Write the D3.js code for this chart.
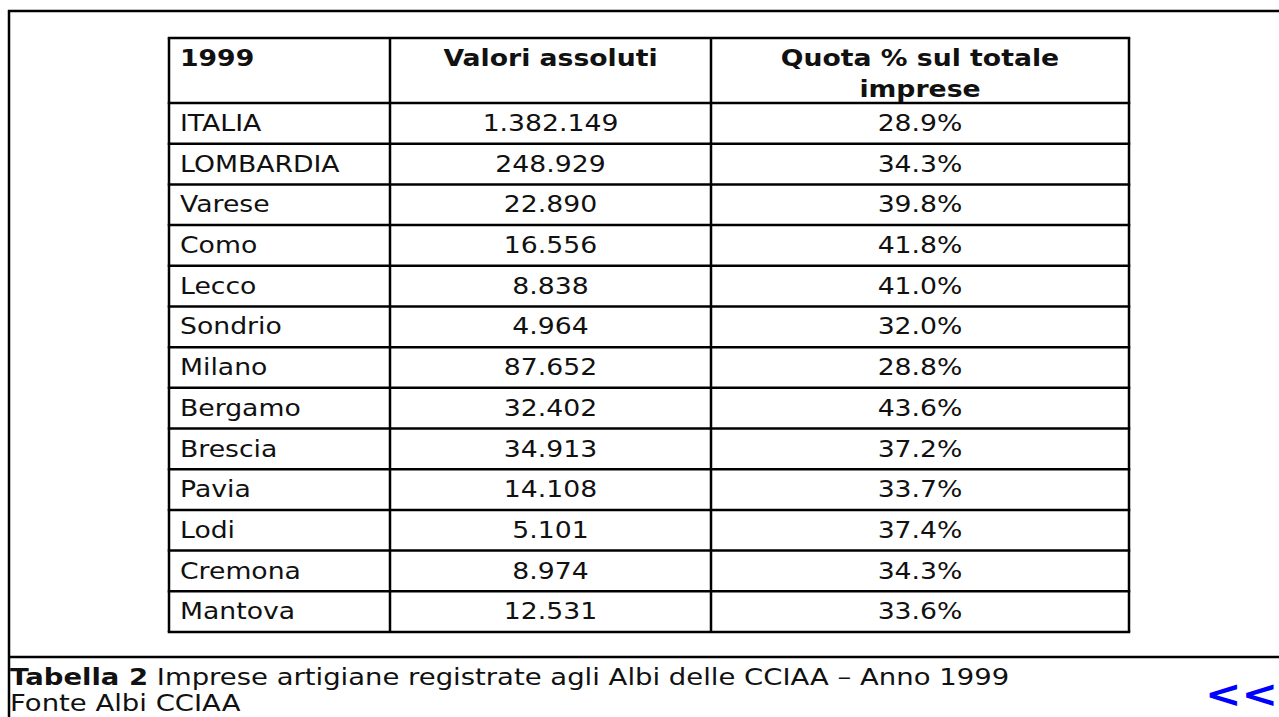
<!DOCTYPE html>
<html>
<head>
<meta charset="utf-8">
<script src="https://cdn.jsdelivr.net/npm/d3@7"></script>
<style>
  body { margin: 0; background: #fff; }
  svg { display: block; }
  text { font-family: "DejaVu Sans", Verdana, sans-serif; fill: #111; }
</style>
</head>
<body>
<svg></svg>
<script>
// table content
const regions = ['ITALIA', 'LOMBARDIA', 'Varese', 'Como', 'Lecco', 'Sondrio', 'Milano',
                 'Bergamo', 'Brescia', 'Pavia', 'Lodi', 'Cremona', 'Mantova'];
const valori = [1382149, 248929, 22890, 16556, 8838, 4964, 87652, 32402, 34913, 14108, 5101, 8974, 12531];
const quota = [28.9, 34.3, 39.8, 41.8, 41.0, 32.0, 28.8, 43.6, 37.2, 33.7, 37.4, 34.3, 33.6];
const headers = ['1999', 'Valori assoluti', ['Quota % sul totale', 'imprese']];
const caption = ['Tabella 2', ' Imprese artigiane registrate agli Albi delle CCIAA \u2013 Anno 1999'];
const source = 'Fonte Albi CCIAA';

const width = 1279;
const height = 717;
const fs = 23;
const stretch = 1.16;

const it = d3.formatLocale({decimal: ',', thousands: '.', grouping: [3]});
const fmtVal = it.format(',d');
const fmtPct = d => d3.format('.1f')(d) + '%';

const svg = d3.select('svg')
    .attr('width', width)
    .attr('height', height);

// edges of the three columns
const colEdges = [169, 390, 711, 1129];
const tableTop = 38;
const headBottom = 103;
const tableBottom = 632;

const y = d3.scaleBand()
    .domain(regions)
    .range([headBottom, tableBottom]);

// outer frame
svg.append('line').attr('x1', 9).attr('x2', 9).attr('y1', 10).attr('y2', height)
    .attr('stroke', '#000').attr('stroke-width', 2.5);
svg.append('line').attr('x1', 8).attr('x2', width).attr('y1', 11).attr('y2', 11)
    .attr('stroke', '#000').attr('stroke-width', 2.5);
svg.append('line').attr('x1', 8).attr('x2', width).attr('y1', 657).attr('y2', 657)
    .attr('stroke', '#000').attr('stroke-width', 2.5);

// text helper, horizontally stretched like the original rendering
function label(g, x, yy, txt, anchor, bold, sx) {
    return g.append('text')
        .attr('transform', 'translate(' + x + ',' + yy + ') scale(' + (sx || stretch) + ',1)')
        .attr('text-anchor', anchor)
        .attr('font-size', fs)
        .attr('font-weight', bold ? 'bold' : 'normal')
        .text(txt);
}

const table = svg.append('g');

// grid lines
const hLines = [tableTop, headBottom].concat(regions.map(d => y(d) + y.bandwidth()));
table.selectAll('line.h')
    .data(hLines)
    .enter()
    .append('line')
        .attr('x1', colEdges[0] - 1.25)
        .attr('x2', colEdges[3] + 1.25)
        .attr('y1', d => d)
        .attr('y2', d => d)
        .attr('stroke', '#000')
        .attr('stroke-width', 2.5);

table.selectAll('line.v')
    .data(colEdges)
    .enter()
    .append('line')
        .attr('x1', d => d)
        .attr('x2', d => d)
        .attr('y1', tableTop)
        .attr('y2', tableBottom)
        .attr('stroke', '#000')
        .attr('stroke-width', 2.5);

const c2 = (colEdges[1] + colEdges[2]) / 2;
const c3 = (colEdges[2] + colEdges[3]) / 2;

// header
label(table, colEdges[0] + 11, 66, headers[0], 'start', true);
label(table, c2, 66, headers[1], 'middle', true);
label(table, c3, 66, headers[2][0], 'middle', true);
label(table, c3, 97, headers[2][1], 'middle', true);

// rows
regions.forEach((r, i) => {
    const base = y(r) + 28;
    label(table, colEdges[0] + 11, base, r, 'start', false);
    label(table, c2, base, fmtVal(valori[i]), 'middle', false);
    label(table, c3, base, fmtPct(quota[i]), 'middle', false);
});

// caption
const cap = svg.append('text')
    .attr('transform', 'translate(10,685) scale(' + (stretch * 1.03) + ',1)')
    .attr('font-size', fs);
cap.append('tspan').attr('font-weight', 'bold').text(caption[0]);
cap.append('tspan').text(caption[1]);

label(svg, 10, 711, source, 'start', false, stretch * 1.03);

// back link
svg.append('text')
    .attr('transform', 'translate(1205,707) scale(1.15,1)')
    .attr('font-size', 38)
    .attr('font-weight', 'bold')
    .style('fill', '#0000ff')
    .text('<<');
</script>
</body>
</html>
